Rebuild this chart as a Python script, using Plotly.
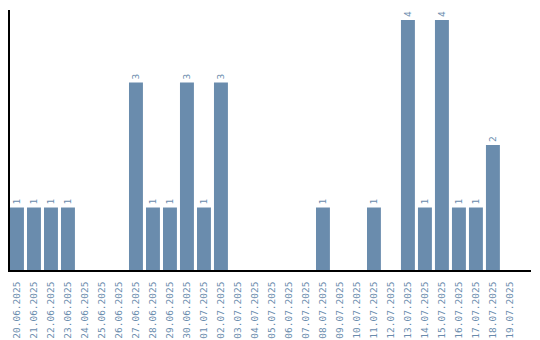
import plotly.graph_objects as go

dates = ["20.06.2025","21.06.2025","22.06.2025","23.06.2025","24.06.2025","25.06.2025",
         "26.06.2025","27.06.2025","28.06.2025","29.06.2025","30.06.2025","01.07.2025",
         "02.07.2025","03.07.2025","04.07.2025","05.07.2025","06.07.2025","07.07.2025",
         "08.07.2025","09.07.2025","10.07.2025","11.07.2025","12.07.2025","13.07.2025",
         "14.07.2025","15.07.2025","16.07.2025","17.07.2025","18.07.2025","19.07.2025"]
counts = [1,1,1,1,0,0,0,3,1,1,3,1,3,0,0,0,0,0,1,0,0,1,0,4,1,4,1,1,2,0]

color = "#6a8cad"
labels = [str(v) if v > 0 else "" for v in counts]

fig = go.Figure(go.Bar(
    x=dates, y=counts, marker_color=color, marker_line_width=0,
    text=labels, textposition="outside", textangle=-90,
    textfont=dict(family="DejaVu Sans Mono", size=9.5, color=color),
    cliponaxis=False,
))
fig.update_layout(
    width=540, height=340, margin=dict(l=10, r=9, t=10, b=70),
    plot_bgcolor="white", paper_bgcolor="white", showlegend=False, bargap=0.18,
)
fig.update_xaxes(type="category", range=[-0.41, 30.24], showgrid=False, showline=True,
                 linecolor="black", linewidth=1.5, tickangle=-90, ticks="outside",
                 ticklen=6, tickcolor="rgba(0,0,0,0)", automargin=False,
                 tickfont=dict(family="DejaVu Sans Mono", size=9.5, color=color))
fig.update_yaxes(range=[0, 4.16], showgrid=False, showline=True, linecolor="black",
                 linewidth=1.5, showticklabels=False, ticks="", zeroline=False,
                 automargin=False)
fig.write_html("out.html")
